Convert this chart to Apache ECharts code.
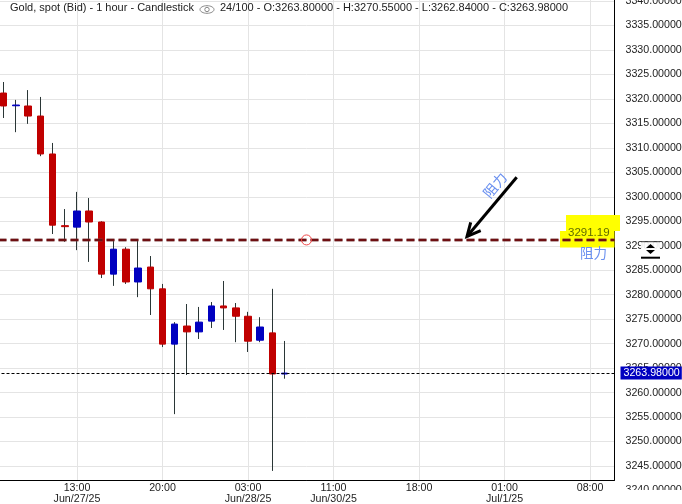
<!DOCTYPE html>
<html><head><meta charset="utf-8">
<style>html,body{margin:0;padding:0;background:#fff}#c{width:682px;height:504px}</style>
<script src="https://cdn.jsdelivr.net/npm/echarts@6/dist/echarts.min.js"></script>
</head><body><div id="c"></div>
<script>
const categories = ["Jun/27 06:00",
 "Jun/27 07:00","Jun/27 08:00","Jun/27 09:00","Jun/27 10:00","Jun/27 11:00","Jun/27 12:00","Jun/27 13:00",
 "Jun/27 14:00","Jun/27 15:00","Jun/27 16:00","Jun/27 17:00","Jun/27 18:00","Jun/27 19:00","Jun/27 20:00",
 "Jun/27 21:00","Jun/27 22:00","Jun/27 23:00","Jun/28 00:00","Jun/28 01:00","Jun/28 02:00","Jun/28 03:00",
 "Jun/28 04:00","Jun/28 05:00","Jun/28 06:00","Jun/30 08:00","Jun/30 09:00","Jun/30 10:00","Jun/30 11:00",
 "Jun/30 12:00","Jun/30 13:00","Jun/30 14:00","Jun/30 15:00","Jun/30 16:00","Jun/30 17:00","Jun/30 18:00",
 "Jun/30 19:00","Jun/30 20:00","Jun/30 21:00","Jun/30 22:00","Jun/30 23:00","Jul/1 00:00","Jul/1 01:00",
 "Jul/1 02:00","Jul/1 03:00","Jul/1 04:00","Jul/1 05:00","Jul/1 06:00","Jul/1 07:00","Jul/1 08:00",
 "Jul/1 09:00","Jul/1 10:00"];
const tickLabels = {
 "Jun/27 13:00":"13:00\nJun/27/25","Jun/27 20:00":"20:00","Jun/28 03:00":"03:00\nJun/28/25",
 "Jun/30 11:00":"11:00\nJun/30/25","Jun/30 18:00":"18:00","Jul/1 01:00":"01:00\nJul/1/25","Jul/1 08:00":"08:00"};
const opens  = [null,3321.2,3318.6,3318.55,3316.5,3308.75,3294.1,3293.8,3297.1,3294.85,3284.2,3289.3,3282.6,3285.65,3281.2,3269.9,3273.6,3272.4,3274.6,3277.7,3277.3,3275.6,3270.7,3272.2,3263.80];
const closes = [null,3318.55,3318.75,3316.5,3308.75,3294.2,3293.9,3297.1,3294.85,3284.2,3289.3,3282.6,3285.45,3281.2,3269.9,3274,3272.4,3274.4,3277.7,3277.3,3275.6,3270.5,3273.4,3263.8,3263.98];
const lows   = [null,3316.1,3313.2,3314.9,3308.3,3292.4,3290.8,3289.1,3286.7,3283.4,3281.8,3282.2,3279.5,3275.85,3269.3,3255.6,3263.6,3270.95,3273.2,3272.8,3270.3,3268.3,3270.3,3244,3262.84];
const highs  = [null,3323.45,3319.8,3321.8,3320.4,3311,3297.5,3301,3299.75,3295,3291.2,3289.7,3291.2,3287.9,3282.2,3274.4,3278.1,3277.5,3278.5,3282.8,3278.3,3276.5,3275.4,3281.2,3270.55];
const resistance = 3291.19;
const lastPrice = 3263.98;
const titleLeft = "Gold, spot (Bid) - 1 hour - Candlestick";
const titleRight = "24/100 - O:3263.80000 - H:3270.55000 - L:3262.84000 - C:3263.98000";
const noteText = "阻力";

const FONT = "'Liberation Sans', Arial, sans-serif";
const FS = 10.67;
const RED = "#c00000", BLUE = "#0000c0", WICK = "#2a3636", GRID = "#e4e4e4";
const wickData = opens.map((o,i)=> o==null ? '-' : [o,closes[i],lows[i],highs[i]]);
const bodyData = opens.map((o,i)=> o==null ? '-' : [o,closes[i],Math.min(o,closes[i]),Math.max(o,closes[i])]);
const hasLabel = (i,v)=> tickLabels[categories[i]] !== undefined;
const gridBox = {left:-8.5, width:623, outerBoundsMode:'none'};

const chart = echarts.init(document.getElementById('c'),null,{renderer:'canvas'});
chart.setOption({
 animation:false,
 backgroundColor:'#fff',
 grid:[
  {...gridBox, top:1, height:489.5},
  {...gridBox, top:0, height:480}
 ],
 xAxis:[
  {type:'category',gridIndex:0,data:categories,boundaryGap:false,show:false},
  {type:'category',gridIndex:1,data:categories,boundaryGap:false,
   axisLine:{show:true,lineStyle:{color:'#000',width:1}},axisTick:{show:false},
   splitLine:{show:true,interval:hasLabel,lineStyle:{color:GRID,width:1}},
   axisLabel:{interval:hasLabel,margin:3,color:'#222',fontFamily:FONT,fontSize:FS,lineHeight:10.5,
    formatter:(v)=>tickLabels[v]||''}}
 ],
 yAxis:[
  {type:'value',gridIndex:0,position:'right',min:3240,max:3340,interval:5,
   axisLine:{show:false},axisTick:{show:false},
   splitLine:{show:true,showMinLine:false,lineStyle:{color:GRID,width:1}},
   axisLabel:{margin:11,color:'#222',fontFamily:FONT,fontSize:FS,formatter:(v)=>v.toFixed(5)}},
  {type:'value',gridIndex:1,position:'right',min:0,max:1,
   axisLine:{show:true,lineStyle:{color:'#000',width:1}},axisTick:{show:false},
   splitLine:{show:false},axisLabel:{show:false}}
 ],
 series:[
  {type:'candlestick',name:'wick',xAxisIndex:0,yAxisIndex:0,data:wickData,barWidth:1,z:2,silent:true,
   itemStyle:{color:WICK,color0:WICK,borderColor:WICK,borderColor0:WICK,borderWidth:1}},
  {type:'candlestick',name:'Gold',xAxisIndex:0,yAxisIndex:0,data:bodyData,barWidth:7,z:3,silent:true,
   itemStyle:{color:BLUE,color0:RED,borderColor:BLUE,borderColor0:RED,borderWidth:1},
   markLine:{silent:true,symbol:'none',animation:false,z:4,
    data:[
     {yAxis:resistance,label:{show:false},lineStyle:{color:'rgba(120,60,60,0.45)',width:4,type:[8,4],dashOffset:5,opacity:1}},
     {yAxis:resistance,label:{show:false},lineStyle:{color:'#6e0f12',width:2,type:[8,4],dashOffset:5,opacity:1}},
     {yAxis:lastPrice,lineStyle:{color:'#000',width:1,type:[3,2],opacity:1},
      label:{show:true,position:'end',distance:6,formatter:()=>lastPrice.toFixed(5),color:'#fff',
       fontFamily:FONT,fontSize:FS,backgroundColor:BLUE,padding:[1,2,1,3]}}
    ]}}
 ]
});

const yRes = chart.convertToPixel({yAxisIndex:0},resistance);
const txt=(x,y,t,o={})=>({type:'text',x,y,z:o.z||10,rotation:o.rot||0,silent:true,
  style:{text:t,fill:o.fill||'#222',font:(o.size||FS)+'px '+(o.fam||FONT),textAlign:o.align||'left',textVerticalAlign:'middle'}});
const CJK="'Noto Sans CJK SC', sans-serif", NOTE='#6a90f0';
chart.setOption({graphic:{elements:[
 txt(10,8,titleLeft,{size:11}),
 txt(220,8,titleRight,{size:11}),
 {type:'ellipse',z:10,silent:true,shape:{cx:207,cy:9.5,rx:7,ry:3.8},style:{fill:'none',stroke:'#888',lineWidth:1}},
 {type:'circle',z:10,silent:true,shape:{cx:207,cy:9.5,r:2.2},style:{fill:'none',stroke:'#888',lineWidth:1}},
 {type:'rect',z:1,silent:true,shape:{x:566,y:215,width:54,height:16},style:{fill:'#ffff00'}},
 {type:'rect',z:1,silent:true,shape:{x:560,y:231,width:54.5,height:16.5},style:{fill:'#ffff00'}},
 txt(568,yRes-7,resistance.toFixed(2),{size:11.5,fill:'#5f6a00'}),
 txt(580,yRes+13,noteText,{size:13.5,fill:NOTE,fam:CJK}),
 {type:'circle',z:10,silent:true,shape:{cx:306.5,cy:yRes,r:5},style:{fill:'none',stroke:'#f04848',lineWidth:1}},
 {type:'polyline',z:10,silent:true,shape:{points:[[516.7,177.3],[467,yRes-3.5]]},style:{stroke:'#000',lineWidth:3,fill:'none'}},
 {type:'polyline',z:10,silent:true,shape:{points:[[470.7,222.3],[467,yRes-3.5],[480.7,230.7]]},style:{stroke:'#000',lineWidth:3,fill:'none',lineJoin:'miter'}},
 txt(495,185,noteText,{size:14,fill:NOTE,fam:CJK,rot:Math.PI*50/180,align:'center'}),
 {type:'rect',z:10,silent:true,shape:{x:620,y:490,width:62,height:14},style:{fill:'#fff'}},
 {type:'rect',z:8,silent:true,shape:{x:641,y:242,width:19,height:16},style:{fill:'rgba(255,255,255,0.9)'}},
 {type:'line',z:9,silent:true,shape:{x1:641,y1:241.7,x2:660,y2:241.7},style:{stroke:'#333',lineWidth:1}},
 {type:'line',z:9,silent:true,shape:{x1:641,y1:257.7,x2:660,y2:257.7},style:{stroke:'#000',lineWidth:2}},
 {type:'polygon',z:9,silent:true,shape:{points:[[646,248],[650.5,244],[655,248]]},style:{fill:'#000'}},
 {type:'polygon',z:9,silent:true,shape:{points:[[646,250],[650.5,254],[655,250]]},style:{fill:'#000'}}
]}});
</script></body></html>
